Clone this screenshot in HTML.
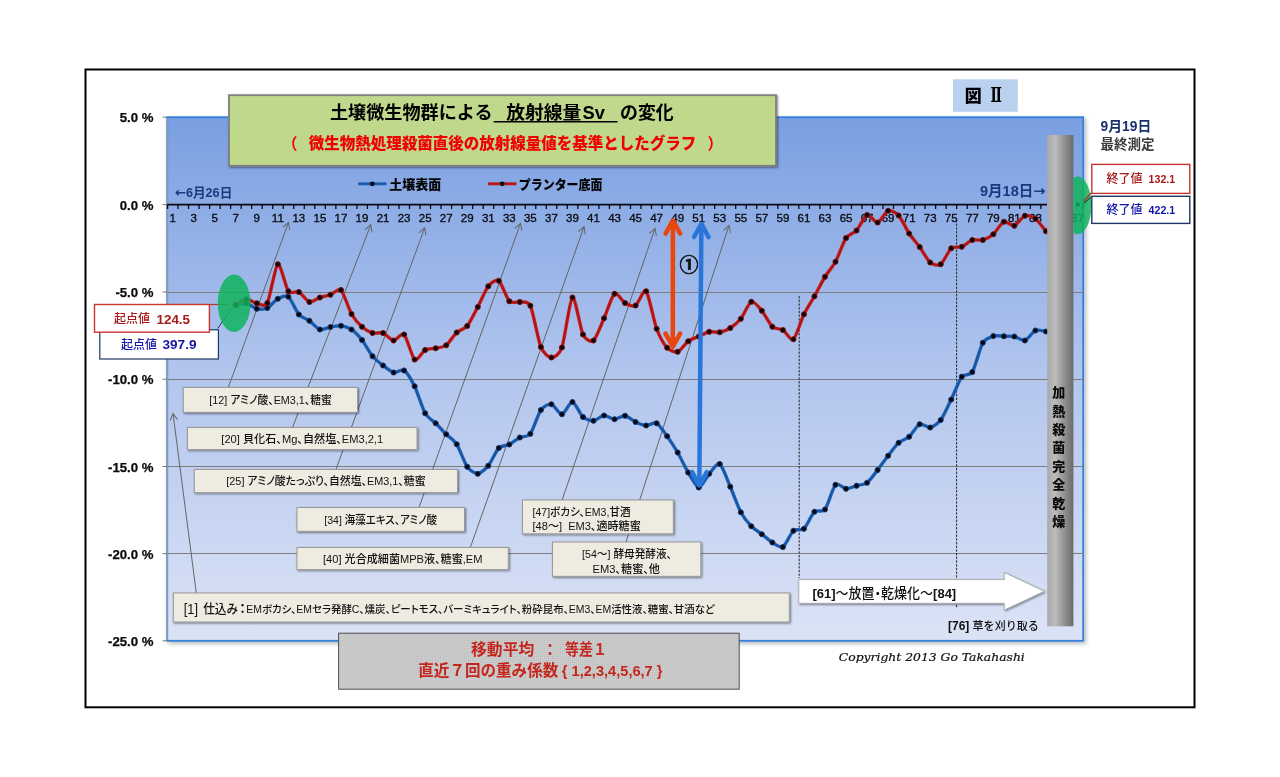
<!DOCTYPE html>
<html lang="ja"><head><meta charset="utf-8"><title>土壌微生物群による放射線量Svの変化</title>
<style>
html,body{margin:0;padding:0;background:#fff;}
body{width:1280px;height:777px;overflow:hidden;font-family:"Liberation Sans","Noto Sans CJK JP",sans-serif;}
svg{display:block;}
text{font-family:"Liberation Sans","Noto Sans CJK JP",sans-serif;}
.b{font-weight:700;}
.ax{font-size:11.5px;fill:#0c0c14;stroke:#0c0c14;stroke-width:0.35px;}
.yl{font-size:13.2px;font-weight:700;fill:#0a0a0a;stroke:#0a0a0a;stroke-width:0.25px;}
.note{font-size:11.1px;fill:#111;font-weight:500;font-feature-settings:"palt";}
</style></head><body>
<svg width="1280" height="777" viewBox="0 0 1280 777">
<defs>
<linearGradient id="gplot" x1="0" y1="0" x2="0" y2="1">
<stop offset="0" stop-color="#799fe1"/><stop offset="0.5" stop-color="#b3c6ee"/><stop offset="1" stop-color="#dbe3f6"/>
</linearGradient>
<linearGradient id="gbar" x1="0" y1="0" x2="1" y2="0">
<stop offset="0" stop-color="#a9a9a9"/><stop offset="0.3" stop-color="#bcbcbc"/><stop offset="0.7" stop-color="#8c8c8c"/><stop offset="1" stop-color="#6a6a6a"/>
</linearGradient>
<filter id="sh" x="-5%" y="-5%" width="115%" height="115%"><feGaussianBlur in="SourceAlpha" stdDeviation="2.2"/><feOffset dx="2" dy="2"/><feComponentTransfer><feFuncA type="linear" slope="0.28"/></feComponentTransfer><feMerge><feMergeNode/><feMergeNode in="SourceGraphic"/></feMerge></filter>
<filter id="sh2" x="-5%" y="-20%" width="110%" height="150%"><feGaussianBlur in="SourceAlpha" stdDeviation="1"/><feOffset dx="1" dy="1.2"/><feComponentTransfer><feFuncA type="linear" slope="0.5"/></feComponentTransfer><feMerge><feMergeNode/><feMergeNode in="SourceGraphic"/></feMerge></filter>
<marker id="ah" viewBox="0 0 12 12" refX="10" refY="6" markerWidth="10" markerHeight="10" orient="auto" markerUnits="userSpaceOnUse"><path d="M2,1.5 L10,6 L2,10.5" fill="none" stroke="#666" stroke-width="1.2"/></marker>
<pattern id="dots" width="2" height="2" patternUnits="userSpaceOnUse"><rect width="2" height="2" fill="#cbcbcb"/><rect width="1" height="1" fill="#bdbdbd"/></pattern>
</defs>

<rect x="85.5" y="69.5" width="1109" height="637.8" fill="#fff" stroke="#000" stroke-width="2"/>
<rect x="167.2" y="117.2" width="916.0" height="523.6" fill="url(#gplot)" stroke="#3580da" stroke-width="1.8" filter="url(#sh)"/>
<line x1="167.2" x2="1083.2" y1="292.5" y2="292.5" stroke="#7d7d7d" stroke-width="1"/>
<line x1="167.2" x2="1083.2" y1="379.5" y2="379.5" stroke="#7d7d7d" stroke-width="1"/>
<line x1="167.2" x2="1083.2" y1="466.5" y2="466.5" stroke="#7d7d7d" stroke-width="1"/>
<line x1="167.2" x2="1083.2" y1="553.5" y2="553.5" stroke="#7d7d7d" stroke-width="1"/>
<line x1="167.2" x2="167.2" y1="118.2" y2="639.8" stroke="#8a9cc0" stroke-width="1.8"/>
<line x1="162.5" x2="167.2" y1="117.2" y2="117.2" stroke="#777" stroke-width="1"/>
<text class="yl" x="153.5" y="122.3" text-anchor="end">5.0 %</text>
<line x1="162.5" x2="167.2" y1="204.6" y2="204.6" stroke="#777" stroke-width="1"/>
<text class="yl" x="153.5" y="209.7" text-anchor="end">0.0 %</text>
<line x1="162.5" x2="167.2" y1="292.0" y2="292.0" stroke="#777" stroke-width="1"/>
<text class="yl" x="153.5" y="297.1" text-anchor="end">-5.0 %</text>
<line x1="162.5" x2="167.2" y1="379.2" y2="379.2" stroke="#777" stroke-width="1"/>
<text class="yl" x="153.5" y="384.3" text-anchor="end">-10.0 %</text>
<line x1="162.5" x2="167.2" y1="466.5" y2="466.5" stroke="#777" stroke-width="1"/>
<text class="yl" x="153.5" y="471.6" text-anchor="end">-15.0 %</text>
<line x1="162.5" x2="167.2" y1="553.6" y2="553.6" stroke="#777" stroke-width="1"/>
<text class="yl" x="153.5" y="558.7" text-anchor="end">-20.0 %</text>
<line x1="162.5" x2="167.2" y1="640.8" y2="640.8" stroke="#777" stroke-width="1"/>
<text class="yl" x="153.5" y="645.9" text-anchor="end">-25.0 %</text>
<line x1="228.3" y1="387.5" x2="288.5" y2="222.5" stroke="#646464" stroke-width="1" marker-end="url(#ah)"/>
<line x1="292.5" y1="427.5" x2="370.8" y2="224.8" stroke="#646464" stroke-width="1" marker-end="url(#ah)"/>
<line x1="335.9" y1="469.5" x2="424.7" y2="227.8" stroke="#646464" stroke-width="1" marker-end="url(#ah)"/>
<line x1="419.0" y1="507.5" x2="520.5" y2="223.4" stroke="#646464" stroke-width="1" marker-end="url(#ah)"/>
<line x1="470.3" y1="547.5" x2="584.0" y2="226.8" stroke="#646464" stroke-width="1" marker-end="url(#ah)"/>
<line x1="562.1" y1="500.0" x2="655.0" y2="228.4" stroke="#646464" stroke-width="1" marker-end="url(#ah)"/>
<line x1="626.0" y1="542.0" x2="729.0" y2="225.4" stroke="#646464" stroke-width="1" marker-end="url(#ah)"/>
<line x1="196.3" y1="593.0" x2="173.0" y2="413.5" stroke="#646464" stroke-width="1" marker-end="url(#ah)"/>
<line x1="799.2" x2="799.2" y1="296" y2="578" stroke="#262626" stroke-width="1" stroke-dasharray="2.4,1.3"/>
<line x1="956.6" x2="956.6" y1="220" y2="608" stroke="#262626" stroke-width="1" stroke-dasharray="2.4,1.3"/>
<line x1="167.2" x2="1047.0" y1="204.7" y2="204.7" stroke="#0b0b14" stroke-width="1.8"/>
<path d="M167.50,204.7v4.2M178.02,204.7v4.2M188.54,204.7v4.2M199.07,204.7v4.2M209.59,204.7v4.2M220.11,204.7v4.2M230.63,204.7v4.2M241.15,204.7v4.2M251.68,204.7v4.2M262.20,204.7v4.2M272.72,204.7v4.2M283.24,204.7v4.2M293.76,204.7v4.2M304.29,204.7v4.2M314.81,204.7v4.2M325.33,204.7v4.2M335.85,204.7v4.2M346.37,204.7v4.2M356.90,204.7v4.2M367.42,204.7v4.2M377.94,204.7v4.2M388.46,204.7v4.2M398.98,204.7v4.2M409.51,204.7v4.2M420.03,204.7v4.2M430.55,204.7v4.2M441.07,204.7v4.2M451.59,204.7v4.2M462.12,204.7v4.2M472.64,204.7v4.2M483.16,204.7v4.2M493.68,204.7v4.2M504.20,204.7v4.2M514.73,204.7v4.2M525.25,204.7v4.2M535.77,204.7v4.2M546.29,204.7v4.2M556.81,204.7v4.2M567.34,204.7v4.2M577.86,204.7v4.2M588.38,204.7v4.2M598.90,204.7v4.2M609.42,204.7v4.2M619.95,204.7v4.2M630.47,204.7v4.2M640.99,204.7v4.2M651.51,204.7v4.2M662.03,204.7v4.2M672.56,204.7v4.2M683.08,204.7v4.2M693.60,204.7v4.2M704.12,204.7v4.2M714.64,204.7v4.2M725.17,204.7v4.2M735.69,204.7v4.2M746.21,204.7v4.2M756.73,204.7v4.2M767.25,204.7v4.2M777.78,204.7v4.2M788.30,204.7v4.2M798.82,204.7v4.2M809.34,204.7v4.2M819.86,204.7v4.2M830.39,204.7v4.2M840.91,204.7v4.2M851.43,204.7v4.2M861.95,204.7v4.2M872.47,204.7v4.2M883.00,204.7v4.2M893.52,204.7v4.2M904.04,204.7v4.2M914.56,204.7v4.2M925.08,204.7v4.2M935.61,204.7v4.2M946.13,204.7v4.2M956.65,204.7v4.2M967.17,204.7v4.2M977.69,204.7v4.2M988.22,204.7v4.2M998.74,204.7v4.2M1009.26,204.7v4.2M1019.78,204.7v4.2M1030.30,204.7v4.2M1040.83,204.7v4.2M1051.35,204.7v4.2M1061.87,204.7v4.2M1072.39,204.7v4.2M1082.91,204.7v4.2" stroke="#0b0b14" stroke-width="1.3" fill="none"/>
<g class="ax" text-anchor="middle"><text x="172.62" y="222.3">1</text><text x="193.66" y="222.3">3</text><text x="214.71" y="222.3">5</text><text x="235.75" y="222.3">7</text><text x="256.79" y="222.3">9</text><text x="277.84" y="222.3">11</text><text x="298.88" y="222.3">13</text><text x="319.93" y="222.3">15</text><text x="340.97" y="222.3">17</text><text x="362.01" y="222.3">19</text><text x="383.06" y="222.3">21</text><text x="404.10" y="222.3">23</text><text x="425.15" y="222.3">25</text><text x="446.19" y="222.3">27</text><text x="467.23" y="222.3">29</text><text x="488.28" y="222.3">31</text><text x="509.32" y="222.3">33</text><text x="530.37" y="222.3">35</text><text x="551.41" y="222.3">37</text><text x="572.45" y="222.3">39</text><text x="593.50" y="222.3">41</text><text x="614.54" y="222.3">43</text><text x="635.59" y="222.3">45</text><text x="656.63" y="222.3">47</text><text x="677.67" y="222.3">49</text><text x="698.72" y="222.3">51</text><text x="719.76" y="222.3">53</text><text x="740.81" y="222.3">55</text><text x="761.85" y="222.3">57</text><text x="782.89" y="222.3">59</text><text x="803.94" y="222.3">61</text><text x="824.98" y="222.3">63</text><text x="846.03" y="222.3">65</text><text x="867.07" y="222.3">67</text><text x="888.11" y="222.3">69</text><text x="909.16" y="222.3">71</text><text x="930.20" y="222.3">73</text><text x="951.25" y="222.3">75</text><text x="972.29" y="222.3">77</text><text x="993.33" y="222.3">79</text><text x="1014.38" y="222.3">81</text><text x="1035.42" y="222.3">83</text><text x="1056.47" y="222.3">85</text><text x="1077.51" y="222.3">87</text></g>
<g stroke="#e8460c" stroke-width="4.5" fill="none" stroke-linecap="round" stroke-linejoin="round"><line x1="672.90" y1="221.85" x2="672.80" y2="345.25"/><path d="M665.59,233.54 L672.90,220.35 L680.19,233.56"/><path d="M665.51,333.54 L672.80,346.75 L680.11,333.56"/></g>
<path d="M235.75,305.00 C237.07,304.78 243.64,302.78 246.27,303.25 C248.90,303.72 254.16,308.16 256.79,308.75 C259.42,309.34 264.69,309.25 267.32,308.00 C269.95,306.75 275.21,300.16 277.84,298.75 C280.47,297.34 285.73,294.78 288.36,296.75 C290.99,298.72 296.25,311.50 298.88,314.50 C301.51,317.50 306.77,318.88 309.40,320.75 C312.03,322.62 317.30,328.72 319.93,329.50 C322.56,330.28 327.82,327.47 330.45,327.00 C333.08,326.53 338.34,325.44 340.97,325.75 C343.60,326.06 348.86,327.72 351.49,329.50 C354.12,331.28 359.38,336.66 362.01,340.00 C364.64,343.34 369.91,353.06 372.54,356.25 C375.17,359.44 380.43,363.47 383.06,365.50 C385.69,367.53 390.95,371.88 393.58,372.50 C396.21,373.12 401.47,368.78 404.10,370.50 C406.73,372.22 411.99,380.91 414.62,386.25 C417.25,391.59 422.52,408.62 425.15,413.25 C427.78,417.88 433.04,420.62 435.67,423.25 C438.30,425.88 443.56,431.62 446.19,434.25 C448.82,436.88 454.08,440.19 456.71,444.25 C459.34,448.31 464.60,463.06 467.23,466.75 C469.86,470.44 475.13,473.88 477.76,473.75 C480.39,473.62 485.65,468.97 488.28,465.75 C490.91,462.53 496.17,450.66 498.80,448.00 C501.43,445.34 506.69,445.81 509.32,444.50 C511.95,443.19 517.21,438.84 519.84,437.50 C522.47,436.16 527.74,437.19 530.37,433.75 C533.00,430.31 538.26,413.69 540.89,410.00 C543.52,406.31 548.78,403.72 551.41,404.25 C554.04,404.78 559.30,414.53 561.93,414.25 C564.56,413.97 569.82,401.66 572.45,402.00 C575.08,402.34 580.35,414.66 582.98,417.00 C585.61,419.34 590.87,420.94 593.50,420.75 C596.13,420.56 601.39,415.69 604.02,415.50 C606.65,415.31 611.91,419.22 614.54,419.25 C617.17,419.28 622.43,415.41 625.06,415.75 C627.69,416.09 632.96,420.78 635.59,422.00 C638.22,423.22 643.48,425.34 646.11,425.50 C648.74,425.66 654.00,421.91 656.63,423.25 C659.26,424.59 664.52,432.59 667.15,436.25 C669.78,439.91 675.04,447.97 677.67,452.50 C680.30,457.03 685.57,468.12 688.20,472.50 C690.83,476.88 696.09,487.34 698.72,487.50 C701.35,487.66 706.61,476.69 709.24,473.75 C711.87,470.81 717.13,462.38 719.76,464.00 C722.39,465.62 727.65,480.72 730.28,486.75 C732.91,492.78 738.18,507.31 740.81,512.25 C743.44,517.19 748.70,523.50 751.33,526.25 C753.96,529.00 759.22,532.22 761.85,534.25 C764.48,536.28 769.74,540.91 772.37,542.50 C775.00,544.09 780.26,548.47 782.89,547.00 C785.52,545.53 790.79,533.03 793.42,530.75 C796.05,528.47 801.31,531.12 803.94,528.75 C806.57,526.38 811.83,514.16 814.46,511.75 C817.09,509.34 822.35,512.88 824.98,509.50 C827.61,506.12 832.87,487.34 835.50,484.75 C838.13,482.16 843.40,488.62 846.03,488.75 C848.66,488.88 853.92,486.50 856.55,485.75 C859.18,485.00 864.44,484.72 867.07,482.75 C869.70,480.78 874.96,473.38 877.59,470.00 C880.22,466.62 885.48,459.16 888.11,455.75 C890.74,452.34 896.01,445.12 898.64,442.75 C901.27,440.38 906.53,439.06 909.16,436.75 C911.79,434.44 917.05,425.41 919.68,424.25 C922.31,423.09 927.57,428.03 930.20,427.50 C932.83,426.97 938.09,423.50 940.72,420.00 C943.35,416.50 948.62,404.91 951.25,399.50 C953.88,394.09 959.14,380.19 961.77,376.75 C964.40,373.31 969.66,376.25 972.29,372.00 C974.92,367.75 980.18,347.24 982.81,342.75 C985.44,338.26 990.70,336.91 993.33,336.10 C995.96,335.29 1001.23,336.20 1003.86,336.25 C1006.49,336.30 1011.75,335.97 1014.38,336.50 C1017.01,337.03 1022.27,341.25 1024.90,340.50 C1027.53,339.75 1032.79,331.62 1035.42,330.50 C1038.05,329.38 1044.63,331.38 1045.94,331.50" fill="none" stroke="#1f64b8" stroke-width="3.4" stroke-linejoin="round" stroke-linecap="round"/>
<path d="M235.75,305.00 C237.07,304.78 243.64,302.78 246.27,303.25 C248.90,303.72 254.16,308.16 256.79,308.75 C259.42,309.34 264.69,309.25 267.32,308.00 C269.95,306.75 275.21,300.16 277.84,298.75 C280.47,297.34 285.73,294.78 288.36,296.75 C290.99,298.72 296.25,311.50 298.88,314.50 C301.51,317.50 306.77,318.88 309.40,320.75 C312.03,322.62 317.30,328.72 319.93,329.50 C322.56,330.28 327.82,327.47 330.45,327.00 C333.08,326.53 338.34,325.44 340.97,325.75 C343.60,326.06 348.86,327.72 351.49,329.50 C354.12,331.28 359.38,336.66 362.01,340.00 C364.64,343.34 369.91,353.06 372.54,356.25 C375.17,359.44 380.43,363.47 383.06,365.50 C385.69,367.53 390.95,371.88 393.58,372.50 C396.21,373.12 401.47,368.78 404.10,370.50 C406.73,372.22 411.99,380.91 414.62,386.25 C417.25,391.59 422.52,408.62 425.15,413.25 C427.78,417.88 433.04,420.62 435.67,423.25 C438.30,425.88 443.56,431.62 446.19,434.25 C448.82,436.88 454.08,440.19 456.71,444.25 C459.34,448.31 464.60,463.06 467.23,466.75 C469.86,470.44 475.13,473.88 477.76,473.75 C480.39,473.62 485.65,468.97 488.28,465.75 C490.91,462.53 496.17,450.66 498.80,448.00 C501.43,445.34 506.69,445.81 509.32,444.50 C511.95,443.19 517.21,438.84 519.84,437.50 C522.47,436.16 527.74,437.19 530.37,433.75 C533.00,430.31 538.26,413.69 540.89,410.00 C543.52,406.31 548.78,403.72 551.41,404.25 C554.04,404.78 559.30,414.53 561.93,414.25 C564.56,413.97 569.82,401.66 572.45,402.00 C575.08,402.34 580.35,414.66 582.98,417.00 C585.61,419.34 590.87,420.94 593.50,420.75 C596.13,420.56 601.39,415.69 604.02,415.50 C606.65,415.31 611.91,419.22 614.54,419.25 C617.17,419.28 622.43,415.41 625.06,415.75 C627.69,416.09 632.96,420.78 635.59,422.00 C638.22,423.22 643.48,425.34 646.11,425.50 C648.74,425.66 654.00,421.91 656.63,423.25 C659.26,424.59 664.52,432.59 667.15,436.25 C669.78,439.91 675.04,447.97 677.67,452.50 C680.30,457.03 685.57,468.12 688.20,472.50 C690.83,476.88 696.09,487.34 698.72,487.50 C701.35,487.66 706.61,476.69 709.24,473.75 C711.87,470.81 717.13,462.38 719.76,464.00 C722.39,465.62 727.65,480.72 730.28,486.75 C732.91,492.78 738.18,507.31 740.81,512.25 C743.44,517.19 748.70,523.50 751.33,526.25 C753.96,529.00 759.22,532.22 761.85,534.25 C764.48,536.28 769.74,540.91 772.37,542.50 C775.00,544.09 780.26,548.47 782.89,547.00 C785.52,545.53 790.79,533.03 793.42,530.75 C796.05,528.47 801.31,531.12 803.94,528.75 C806.57,526.38 811.83,514.16 814.46,511.75 C817.09,509.34 822.35,512.88 824.98,509.50 C827.61,506.12 832.87,487.34 835.50,484.75 C838.13,482.16 843.40,488.62 846.03,488.75 C848.66,488.88 853.92,486.50 856.55,485.75 C859.18,485.00 864.44,484.72 867.07,482.75 C869.70,480.78 874.96,473.38 877.59,470.00 C880.22,466.62 885.48,459.16 888.11,455.75 C890.74,452.34 896.01,445.12 898.64,442.75 C901.27,440.38 906.53,439.06 909.16,436.75 C911.79,434.44 917.05,425.41 919.68,424.25 C922.31,423.09 927.57,428.03 930.20,427.50 C932.83,426.97 938.09,423.50 940.72,420.00 C943.35,416.50 948.62,404.91 951.25,399.50 C953.88,394.09 959.14,380.19 961.77,376.75 C964.40,373.31 969.66,376.25 972.29,372.00 C974.92,367.75 980.18,347.24 982.81,342.75 C985.44,338.26 990.70,336.91 993.33,336.10 C995.96,335.29 1001.23,336.20 1003.86,336.25 C1006.49,336.30 1011.75,335.97 1014.38,336.50 C1017.01,337.03 1022.27,341.25 1024.90,340.50 C1027.53,339.75 1032.79,331.62 1035.42,330.50 C1038.05,329.38 1044.63,331.38 1045.94,331.50" fill="none" stroke="#19549e" stroke-width="1.5" stroke-linejoin="round" stroke-linecap="round"/>
<g fill="#0c0608" stroke="#123a78" stroke-width="1"><circle cx="235.75" cy="305.00" r="2.55"/><circle cx="246.27" cy="303.25" r="2.55"/><circle cx="256.79" cy="308.75" r="2.55"/><circle cx="267.32" cy="308.00" r="2.55"/><circle cx="277.84" cy="298.75" r="2.55"/><circle cx="288.36" cy="296.75" r="2.55"/><circle cx="298.88" cy="314.50" r="2.55"/><circle cx="309.40" cy="320.75" r="2.55"/><circle cx="319.93" cy="329.50" r="2.55"/><circle cx="330.45" cy="327.00" r="2.55"/><circle cx="340.97" cy="325.75" r="2.55"/><circle cx="351.49" cy="329.50" r="2.55"/><circle cx="362.01" cy="340.00" r="2.55"/><circle cx="372.54" cy="356.25" r="2.55"/><circle cx="383.06" cy="365.50" r="2.55"/><circle cx="393.58" cy="372.50" r="2.55"/><circle cx="404.10" cy="370.50" r="2.55"/><circle cx="414.62" cy="386.25" r="2.55"/><circle cx="425.15" cy="413.25" r="2.55"/><circle cx="435.67" cy="423.25" r="2.55"/><circle cx="446.19" cy="434.25" r="2.55"/><circle cx="456.71" cy="444.25" r="2.55"/><circle cx="467.23" cy="466.75" r="2.55"/><circle cx="477.76" cy="473.75" r="2.55"/><circle cx="488.28" cy="465.75" r="2.55"/><circle cx="498.80" cy="448.00" r="2.55"/><circle cx="509.32" cy="444.50" r="2.55"/><circle cx="519.84" cy="437.50" r="2.55"/><circle cx="530.37" cy="433.75" r="2.55"/><circle cx="540.89" cy="410.00" r="2.55"/><circle cx="551.41" cy="404.25" r="2.55"/><circle cx="561.93" cy="414.25" r="2.55"/><circle cx="572.45" cy="402.00" r="2.55"/><circle cx="582.98" cy="417.00" r="2.55"/><circle cx="593.50" cy="420.75" r="2.55"/><circle cx="604.02" cy="415.50" r="2.55"/><circle cx="614.54" cy="419.25" r="2.55"/><circle cx="625.06" cy="415.75" r="2.55"/><circle cx="635.59" cy="422.00" r="2.55"/><circle cx="646.11" cy="425.50" r="2.55"/><circle cx="656.63" cy="423.25" r="2.55"/><circle cx="667.15" cy="436.25" r="2.55"/><circle cx="677.67" cy="452.50" r="2.55"/><circle cx="688.20" cy="472.50" r="2.55"/><circle cx="698.72" cy="487.50" r="2.55"/><circle cx="709.24" cy="473.75" r="2.55"/><circle cx="719.76" cy="464.00" r="2.55"/><circle cx="730.28" cy="486.75" r="2.55"/><circle cx="740.81" cy="512.25" r="2.55"/><circle cx="751.33" cy="526.25" r="2.55"/><circle cx="761.85" cy="534.25" r="2.55"/><circle cx="772.37" cy="542.50" r="2.55"/><circle cx="782.89" cy="547.00" r="2.55"/><circle cx="793.42" cy="530.75" r="2.55"/><circle cx="803.94" cy="528.75" r="2.55"/><circle cx="814.46" cy="511.75" r="2.55"/><circle cx="824.98" cy="509.50" r="2.55"/><circle cx="835.50" cy="484.75" r="2.55"/><circle cx="846.03" cy="488.75" r="2.55"/><circle cx="856.55" cy="485.75" r="2.55"/><circle cx="867.07" cy="482.75" r="2.55"/><circle cx="877.59" cy="470.00" r="2.55"/><circle cx="888.11" cy="455.75" r="2.55"/><circle cx="898.64" cy="442.75" r="2.55"/><circle cx="909.16" cy="436.75" r="2.55"/><circle cx="919.68" cy="424.25" r="2.55"/><circle cx="930.20" cy="427.50" r="2.55"/><circle cx="940.72" cy="420.00" r="2.55"/><circle cx="951.25" cy="399.50" r="2.55"/><circle cx="961.77" cy="376.75" r="2.55"/><circle cx="972.29" cy="372.00" r="2.55"/><circle cx="982.81" cy="342.75" r="2.55"/><circle cx="993.33" cy="336.10" r="2.55"/><circle cx="1003.86" cy="336.25" r="2.55"/><circle cx="1014.38" cy="336.50" r="2.55"/><circle cx="1024.90" cy="340.50" r="2.55"/><circle cx="1035.42" cy="330.50" r="2.55"/><circle cx="1045.94" cy="331.50" r="2.55"/></g>

<path d="M235.75,305.00 C237.07,304.28 243.64,299.47 246.27,299.25 C248.90,299.03 254.16,302.78 256.79,303.25 C259.42,303.72 264.69,307.88 267.32,303.00 C269.95,298.12 275.21,265.72 277.84,264.25 C280.47,262.78 285.73,287.78 288.36,291.25 C290.99,294.72 296.25,290.66 298.88,292.00 C301.51,293.34 306.77,301.31 309.40,302.00 C312.03,302.69 317.30,298.41 319.93,297.50 C322.56,296.59 327.82,295.69 330.45,294.75 C333.08,293.81 338.34,287.59 340.97,290.00 C343.60,292.41 348.86,309.41 351.49,314.00 C354.12,318.59 359.38,324.38 362.01,326.75 C364.64,329.12 369.91,332.22 372.54,333.00 C375.17,333.78 380.43,332.06 383.06,333.00 C385.69,333.94 390.95,340.31 393.58,340.50 C396.21,340.69 401.47,332.12 404.10,334.50 C406.73,336.88 411.99,357.56 414.62,359.50 C417.25,361.44 422.52,351.41 425.15,350.00 C427.78,348.59 433.04,348.84 435.67,348.25 C438.30,347.66 443.56,347.22 446.19,345.25 C448.82,343.28 454.08,334.91 456.71,332.50 C459.34,330.09 464.60,329.19 467.23,326.00 C469.86,322.81 475.13,311.97 477.76,307.00 C480.39,302.03 485.65,289.53 488.28,286.25 C490.91,282.97 496.17,278.88 498.80,280.75 C501.43,282.62 506.69,298.59 509.32,301.25 C511.95,303.91 517.21,301.44 519.84,302.00 C522.47,302.56 527.74,300.12 530.37,305.75 C533.00,311.38 538.26,340.53 540.89,347.00 C543.52,353.47 548.78,357.44 551.41,357.50 C554.04,357.56 559.30,355.00 561.93,347.50 C564.56,340.00 569.82,299.12 572.45,297.50 C575.08,295.88 580.35,329.12 582.98,334.50 C585.61,339.88 590.87,342.53 593.50,340.50 C596.13,338.47 601.39,324.09 604.02,318.25 C606.65,312.41 611.91,295.66 614.54,293.75 C617.17,291.84 622.43,301.53 625.06,303.00 C627.69,304.47 632.96,306.97 635.59,305.50 C638.22,304.03 643.48,288.34 646.11,291.25 C648.74,294.16 654.00,321.69 656.63,328.75 C659.26,335.81 664.52,344.88 667.15,347.75 C669.78,350.62 675.04,352.56 677.67,351.75 C680.30,350.94 685.57,343.16 688.20,341.25 C690.83,339.34 696.09,337.69 698.72,336.50 C701.35,335.31 706.61,332.28 709.24,331.75 C711.87,331.22 717.13,332.72 719.76,332.25 C722.39,331.78 727.65,329.69 730.28,328.00 C732.91,326.31 738.18,322.03 740.81,318.75 C743.44,315.47 748.70,302.75 751.33,301.75 C753.96,300.75 759.22,307.62 761.85,310.75 C764.48,313.88 769.74,324.34 772.37,326.75 C775.00,329.16 780.26,328.44 782.89,330.00 C785.52,331.56 790.79,341.22 793.42,339.25 C796.05,337.28 801.31,319.62 803.94,314.25 C806.57,308.88 811.83,300.94 814.46,296.25 C817.09,291.56 822.35,281.06 824.98,276.75 C827.61,272.44 832.87,266.59 835.50,261.75 C838.13,256.91 843.40,241.91 846.03,238.00 C848.66,234.09 853.92,233.38 856.55,230.50 C859.18,227.62 864.44,216.00 867.07,215.00 C869.70,214.00 874.96,223.03 877.59,222.50 C880.22,221.97 885.48,211.62 888.11,210.75 C890.74,209.88 896.01,212.66 898.64,215.50 C901.27,218.34 906.53,229.56 909.16,233.50 C911.79,237.44 917.05,243.38 919.68,247.00 C922.31,250.62 927.57,260.34 930.20,262.50 C932.83,264.66 938.09,266.03 940.72,264.25 C943.35,262.47 948.62,250.44 951.25,248.25 C953.88,246.06 959.14,247.78 961.77,246.75 C964.40,245.72 969.66,240.84 972.29,240.00 C974.92,239.16 980.18,240.72 982.81,240.00 C985.44,239.28 990.70,236.53 993.33,234.25 C995.96,231.97 1001.23,222.81 1003.86,221.75 C1006.49,220.69 1011.75,226.50 1014.38,225.75 C1017.01,225.00 1022.27,216.62 1024.90,215.75 C1027.53,214.88 1032.79,216.81 1035.42,218.75 C1038.05,220.69 1044.63,229.69 1045.94,231.25" fill="none" stroke="#c81e1e" stroke-width="3.4" stroke-linejoin="round" stroke-linecap="round"/>
<path d="M235.75,305.00 C237.07,304.28 243.64,299.47 246.27,299.25 C248.90,299.03 254.16,302.78 256.79,303.25 C259.42,303.72 264.69,307.88 267.32,303.00 C269.95,298.12 275.21,265.72 277.84,264.25 C280.47,262.78 285.73,287.78 288.36,291.25 C290.99,294.72 296.25,290.66 298.88,292.00 C301.51,293.34 306.77,301.31 309.40,302.00 C312.03,302.69 317.30,298.41 319.93,297.50 C322.56,296.59 327.82,295.69 330.45,294.75 C333.08,293.81 338.34,287.59 340.97,290.00 C343.60,292.41 348.86,309.41 351.49,314.00 C354.12,318.59 359.38,324.38 362.01,326.75 C364.64,329.12 369.91,332.22 372.54,333.00 C375.17,333.78 380.43,332.06 383.06,333.00 C385.69,333.94 390.95,340.31 393.58,340.50 C396.21,340.69 401.47,332.12 404.10,334.50 C406.73,336.88 411.99,357.56 414.62,359.50 C417.25,361.44 422.52,351.41 425.15,350.00 C427.78,348.59 433.04,348.84 435.67,348.25 C438.30,347.66 443.56,347.22 446.19,345.25 C448.82,343.28 454.08,334.91 456.71,332.50 C459.34,330.09 464.60,329.19 467.23,326.00 C469.86,322.81 475.13,311.97 477.76,307.00 C480.39,302.03 485.65,289.53 488.28,286.25 C490.91,282.97 496.17,278.88 498.80,280.75 C501.43,282.62 506.69,298.59 509.32,301.25 C511.95,303.91 517.21,301.44 519.84,302.00 C522.47,302.56 527.74,300.12 530.37,305.75 C533.00,311.38 538.26,340.53 540.89,347.00 C543.52,353.47 548.78,357.44 551.41,357.50 C554.04,357.56 559.30,355.00 561.93,347.50 C564.56,340.00 569.82,299.12 572.45,297.50 C575.08,295.88 580.35,329.12 582.98,334.50 C585.61,339.88 590.87,342.53 593.50,340.50 C596.13,338.47 601.39,324.09 604.02,318.25 C606.65,312.41 611.91,295.66 614.54,293.75 C617.17,291.84 622.43,301.53 625.06,303.00 C627.69,304.47 632.96,306.97 635.59,305.50 C638.22,304.03 643.48,288.34 646.11,291.25 C648.74,294.16 654.00,321.69 656.63,328.75 C659.26,335.81 664.52,344.88 667.15,347.75 C669.78,350.62 675.04,352.56 677.67,351.75 C680.30,350.94 685.57,343.16 688.20,341.25 C690.83,339.34 696.09,337.69 698.72,336.50 C701.35,335.31 706.61,332.28 709.24,331.75 C711.87,331.22 717.13,332.72 719.76,332.25 C722.39,331.78 727.65,329.69 730.28,328.00 C732.91,326.31 738.18,322.03 740.81,318.75 C743.44,315.47 748.70,302.75 751.33,301.75 C753.96,300.75 759.22,307.62 761.85,310.75 C764.48,313.88 769.74,324.34 772.37,326.75 C775.00,329.16 780.26,328.44 782.89,330.00 C785.52,331.56 790.79,341.22 793.42,339.25 C796.05,337.28 801.31,319.62 803.94,314.25 C806.57,308.88 811.83,300.94 814.46,296.25 C817.09,291.56 822.35,281.06 824.98,276.75 C827.61,272.44 832.87,266.59 835.50,261.75 C838.13,256.91 843.40,241.91 846.03,238.00 C848.66,234.09 853.92,233.38 856.55,230.50 C859.18,227.62 864.44,216.00 867.07,215.00 C869.70,214.00 874.96,223.03 877.59,222.50 C880.22,221.97 885.48,211.62 888.11,210.75 C890.74,209.88 896.01,212.66 898.64,215.50 C901.27,218.34 906.53,229.56 909.16,233.50 C911.79,237.44 917.05,243.38 919.68,247.00 C922.31,250.62 927.57,260.34 930.20,262.50 C932.83,264.66 938.09,266.03 940.72,264.25 C943.35,262.47 948.62,250.44 951.25,248.25 C953.88,246.06 959.14,247.78 961.77,246.75 C964.40,245.72 969.66,240.84 972.29,240.00 C974.92,239.16 980.18,240.72 982.81,240.00 C985.44,239.28 990.70,236.53 993.33,234.25 C995.96,231.97 1001.23,222.81 1003.86,221.75 C1006.49,220.69 1011.75,226.50 1014.38,225.75 C1017.01,225.00 1022.27,216.62 1024.90,215.75 C1027.53,214.88 1032.79,216.81 1035.42,218.75 C1038.05,220.69 1044.63,229.69 1045.94,231.25" fill="none" stroke="#ac1414" stroke-width="1.5" stroke-linejoin="round" stroke-linecap="round"/>
<g fill="#0c0608" stroke="#7a1010" stroke-width="1"><circle cx="235.75" cy="305.00" r="2.55"/><circle cx="246.27" cy="299.25" r="2.55"/><circle cx="256.79" cy="303.25" r="2.55"/><circle cx="267.32" cy="303.00" r="2.55"/><circle cx="277.84" cy="264.25" r="2.55"/><circle cx="288.36" cy="291.25" r="2.55"/><circle cx="298.88" cy="292.00" r="2.55"/><circle cx="309.40" cy="302.00" r="2.55"/><circle cx="319.93" cy="297.50" r="2.55"/><circle cx="330.45" cy="294.75" r="2.55"/><circle cx="340.97" cy="290.00" r="2.55"/><circle cx="351.49" cy="314.00" r="2.55"/><circle cx="362.01" cy="326.75" r="2.55"/><circle cx="372.54" cy="333.00" r="2.55"/><circle cx="383.06" cy="333.00" r="2.55"/><circle cx="393.58" cy="340.50" r="2.55"/><circle cx="404.10" cy="334.50" r="2.55"/><circle cx="414.62" cy="359.50" r="2.55"/><circle cx="425.15" cy="350.00" r="2.55"/><circle cx="435.67" cy="348.25" r="2.55"/><circle cx="446.19" cy="345.25" r="2.55"/><circle cx="456.71" cy="332.50" r="2.55"/><circle cx="467.23" cy="326.00" r="2.55"/><circle cx="477.76" cy="307.00" r="2.55"/><circle cx="488.28" cy="286.25" r="2.55"/><circle cx="498.80" cy="280.75" r="2.55"/><circle cx="509.32" cy="301.25" r="2.55"/><circle cx="519.84" cy="302.00" r="2.55"/><circle cx="530.37" cy="305.75" r="2.55"/><circle cx="540.89" cy="347.00" r="2.55"/><circle cx="551.41" cy="357.50" r="2.55"/><circle cx="561.93" cy="347.50" r="2.55"/><circle cx="572.45" cy="297.50" r="2.55"/><circle cx="582.98" cy="334.50" r="2.55"/><circle cx="593.50" cy="340.50" r="2.55"/><circle cx="604.02" cy="318.25" r="2.55"/><circle cx="614.54" cy="293.75" r="2.55"/><circle cx="625.06" cy="303.00" r="2.55"/><circle cx="635.59" cy="305.50" r="2.55"/><circle cx="646.11" cy="291.25" r="2.55"/><circle cx="656.63" cy="328.75" r="2.55"/><circle cx="667.15" cy="347.75" r="2.55"/><circle cx="677.67" cy="351.75" r="2.55"/><circle cx="688.20" cy="341.25" r="2.55"/><circle cx="698.72" cy="336.50" r="2.55"/><circle cx="709.24" cy="331.75" r="2.55"/><circle cx="719.76" cy="332.25" r="2.55"/><circle cx="730.28" cy="328.00" r="2.55"/><circle cx="740.81" cy="318.75" r="2.55"/><circle cx="751.33" cy="301.75" r="2.55"/><circle cx="761.85" cy="310.75" r="2.55"/><circle cx="772.37" cy="326.75" r="2.55"/><circle cx="782.89" cy="330.00" r="2.55"/><circle cx="793.42" cy="339.25" r="2.55"/><circle cx="803.94" cy="314.25" r="2.55"/><circle cx="814.46" cy="296.25" r="2.55"/><circle cx="824.98" cy="276.75" r="2.55"/><circle cx="835.50" cy="261.75" r="2.55"/><circle cx="846.03" cy="238.00" r="2.55"/><circle cx="856.55" cy="230.50" r="2.55"/><circle cx="867.07" cy="215.00" r="2.55"/><circle cx="877.59" cy="222.50" r="2.55"/><circle cx="888.11" cy="210.75" r="2.55"/><circle cx="898.64" cy="215.50" r="2.55"/><circle cx="909.16" cy="233.50" r="2.55"/><circle cx="919.68" cy="247.00" r="2.55"/><circle cx="930.20" cy="262.50" r="2.55"/><circle cx="940.72" cy="264.25" r="2.55"/><circle cx="951.25" cy="248.25" r="2.55"/><circle cx="961.77" cy="246.75" r="2.55"/><circle cx="972.29" cy="240.00" r="2.55"/><circle cx="982.81" cy="240.00" r="2.55"/><circle cx="993.33" cy="234.25" r="2.55"/><circle cx="1003.86" cy="221.75" r="2.55"/><circle cx="1014.38" cy="225.75" r="2.55"/><circle cx="1024.90" cy="215.75" r="2.55"/><circle cx="1035.42" cy="218.75" r="2.55"/><circle cx="1045.94" cy="231.25" r="2.55"/></g>

<circle cx="1077.8" cy="204.6" r="2.2" fill="#0a0a12"/>
<text x="688.9" y="271.6" text-anchor="middle" font-size="19" class="b" fill="#111" stroke="#111" stroke-width="0.6">①</text>
<g stroke="#2876d8" stroke-width="4.5" fill="none" stroke-linecap="round" stroke-linejoin="round"><line x1="701.37" y1="225.35" x2="699.33" y2="483.85"/><path d="M693.98,236.99 L701.38,223.85 L708.58,237.11"/><path d="M692.12,472.09 L699.32,485.35 L706.72,472.21"/></g>
<rect x="1047.2" y="135" width="26.2" height="491.3" fill="url(#gbar)"/>
<text font-weight="900" x="1058.8" y="397.2" text-anchor="middle" font-size="13" fill="#0a0a0a">加</text>
<text font-weight="900" x="1058.8" y="415.6" text-anchor="middle" font-size="13" fill="#0a0a0a">熱</text>
<text font-weight="900" x="1058.8" y="434.0" text-anchor="middle" font-size="13" fill="#0a0a0a">殺</text>
<text font-weight="900" x="1058.8" y="452.4" text-anchor="middle" font-size="13" fill="#0a0a0a">菌</text>
<text font-weight="900" x="1058.8" y="470.8" text-anchor="middle" font-size="13" fill="#0a0a0a">完</text>
<text font-weight="900" x="1058.8" y="489.2" text-anchor="middle" font-size="13" fill="#0a0a0a">全</text>
<text font-weight="900" x="1058.8" y="507.6" text-anchor="middle" font-size="13" fill="#0a0a0a">乾</text>
<text font-weight="900" x="1058.8" y="526.0" text-anchor="middle" font-size="13" fill="#0a0a0a">燥</text>
<line x1="217.8" y1="328.4" x2="231" y2="309" stroke="#1f3864" stroke-width="1"/>
<line x1="209.4" y1="304.5" x2="229" y2="304.5" stroke="#c0302a" stroke-width="1.2"/>
<ellipse cx="234.1" cy="303.2" rx="16.4" ry="28.7" fill="#0db35a" fill-opacity="0.84"/>
<path d="M1073.4,177.5 A13.9,28.8 0 0 1 1073.4,233 Z" fill="none"/>
<clipPath id="cl"><rect x="1073.4" y="150" width="40" height="120"/></clipPath>
<ellipse cx="1077.6" cy="205.3" rx="13.9" ry="28.8" fill="#0db35a" fill-opacity="0.84" clip-path="url(#cl)"/>
<rect x="183.3" y="387.5" width="174.2" height="24.8" fill="#eeece1" stroke="#9a9a9a" stroke-width="1" filter="url(#sh2)"/>
<text class="note" x="209.3" y="404.2" textLength="122.5" lengthAdjust="spacingAndGlyphs">[12] アミノ酸、EM3,1、糖蜜</text>
<rect x="187.5" y="427.5" width="229.5" height="22.1" fill="#eeece1" stroke="#9a9a9a" stroke-width="1" filter="url(#sh2)"/>
<text class="note" x="221.3" y="442.8" textLength="162" lengthAdjust="spacingAndGlyphs">[20] 貝化石、Mg、自然塩、EM3,2,1</text>
<rect x="194.3" y="469.5" width="263.2" height="23.1" fill="#eeece1" stroke="#9a9a9a" stroke-width="1" filter="url(#sh2)"/>
<text class="note" x="226.3" y="485.2" textLength="199.2" lengthAdjust="spacingAndGlyphs">[25] アミノ酸たっぷり、自然塩、EM3,1、糖蜜</text>
<rect x="297.0" y="507.5" width="167.5" height="23.8" fill="#eeece1" stroke="#9a9a9a" stroke-width="1" filter="url(#sh2)"/>
<text class="note" x="324.3" y="523.6" textLength="112.7" lengthAdjust="spacingAndGlyphs">[34] 海藻エキス、アミノ酸</text>
<rect x="297.0" y="547.5" width="211.3" height="22.1" fill="#eeece1" stroke="#9a9a9a" stroke-width="1" filter="url(#sh2)"/>
<text class="note" x="323" y="562.8" textLength="159.5" lengthAdjust="spacingAndGlyphs">[40] 光合成細菌MPB液、糖蜜,EM</text>
<rect x="522.5" y="500.0" width="150.8" height="33.8" fill="#eeece1" stroke="#9a9a9a" stroke-width="1" filter="url(#sh2)"/>
<text class="note" x="532.5" y="515.8" textLength="98" lengthAdjust="spacingAndGlyphs">[47]ボカシ、EM3,甘酒</text>
<text class="note" x="532.5" y="530.3" textLength="108.2" lengthAdjust="spacingAndGlyphs" style="white-space:pre">[48～]  EM3、適時糖蜜</text>
<rect x="552.5" y="542.0" width="148.3" height="34.3" fill="#eeece1" stroke="#9a9a9a" stroke-width="1" filter="url(#sh2)"/>
<text class="note" x="582" y="558.3" textLength="90" lengthAdjust="spacingAndGlyphs">[54～] 酵母発酵液、</text>
<text class="note" x="592.5" y="572.6" textLength="67.5" lengthAdjust="spacingAndGlyphs">EM3、糖蜜、他</text>
<rect x="173.3" y="593.0" width="616.0" height="29.0" fill="#eeece1" stroke="#9a9a9a" stroke-width="1" filter="url(#sh2)"/>
<text x="183.8" y="613.6" font-size="14.5" fill="#111" textLength="14.2" lengthAdjust="spacingAndGlyphs">[1]</text>
<text x="203.2" y="613.2" font-size="12.6" fill="#111" style="font-weight:500" textLength="35" lengthAdjust="spacingAndGlyphs">仕込み</text>
<text x="242.6" y="612.8" font-size="12.6" fill="#111" text-anchor="middle" style="font-weight:700">：</text>
<text class="note" x="246.3" y="612.6" style="font-size:10.3px" textLength="468.3" lengthAdjust="spacingAndGlyphs">EMボカシ、EMセラ発酵C、燻炭、ピートモス、バーミキュライト、粉砕昆布、EM3、EM活性液、糖蜜、甘酒など</text>
<path d="M798.8,579.6 H1004.3 V572.5 L1044.3,591.3 L1004.3,610 V603.3 H798.8 Z" fill="#fff" stroke="#a0a0a0" stroke-width="0.8" filter="url(#sh2)"/>
<text x="812.5" y="598" font-size="13.5" fill="#111" style="font-weight:500;font-feature-settings:'palt'" textLength="143.7" lengthAdjust="spacingAndGlyphs"><tspan class="b">[61]</tspan>～放置・乾燥化～<tspan class="b">[84]</tspan></text>
<text class="b" x="948" y="629.5" font-size="12.5" fill="#111" textLength="21.3" lengthAdjust="spacingAndGlyphs">[76]</text>
<text x="972.6" y="629.5" font-size="11.5" fill="#111" style="font-weight:500" textLength="66.1" lengthAdjust="spacingAndGlyphs">草を刈り取る</text>
<rect x="229" y="95.2" width="547" height="70.6" fill="#c0d88c" stroke="#7f7f7f" stroke-width="1.8" filter="url(#sh2)"/>
<text x="330" y="118.5" font-size="18" font-weight="700" fill="#000" textLength="162.5" lengthAdjust="spacingAndGlyphs">土壌微生物群による</text>
<text x="506.3" y="118.5" font-size="18.4" font-weight="700" fill="#000" textLength="75" lengthAdjust="spacingAndGlyphs">放射線量</text>
<text x="582.6" y="118.5" font-size="18.4" font-weight="700" fill="#000" textLength="22.4" lengthAdjust="spacingAndGlyphs">Sv</text>
<text x="620" y="118.5" font-size="18" font-weight="700" fill="#000" textLength="53.7" lengthAdjust="spacingAndGlyphs">の変化</text>
<rect x="493.7" y="121" width="123.8" height="1.5" fill="#000"/>
<text x="308.8" y="149" font-size="15.5" font-weight="900" fill="#f00000" textLength="387.5" lengthAdjust="spacingAndGlyphs">微生物熱処理殺菌直後の放射線量値を基準としたグラフ</text>
<text class="b" x="297.5" y="149" font-size="15.5" fill="#f00000" text-anchor="end">（</text>
<text class="b" x="707.5" y="149" font-size="15.5" fill="#f00000">）</text>
<line x1="358.3" x2="386.3" y1="183.8" y2="183.8" stroke="#1f64b8" stroke-width="3"/><line x1="358.3" x2="386.3" y1="183.8" y2="183.8" stroke="#19549e" stroke-width="1.2"/><circle cx="372.3" cy="183.8" r="2.4" fill="#0a0a12"/>
<text x="389.3" y="188.5" font-size="13" font-weight="900" fill="#000" textLength="52" lengthAdjust="spacingAndGlyphs">土壌表面</text>
<line x1="488" x2="516.3" y1="183.8" y2="183.8" stroke="#c81e1e" stroke-width="3"/><line x1="488" x2="516.3" y1="183.8" y2="183.8" stroke="#ac1414" stroke-width="1.2"/><circle cx="502.2" cy="183.8" r="2.4" fill="#0a0a12"/>
<text x="518.8" y="188.5" font-size="13" font-weight="900" fill="#000" textLength="83.7" lengthAdjust="spacingAndGlyphs">プランター底面</text>
<text class="b" x="174.7" y="196.8" font-size="12.8" fill="#17397f" textLength="57.6" lengthAdjust="spacingAndGlyphs"><tspan style="font-family:'DejaVu Sans',sans-serif" font-size="13.5">←</tspan>6月26日</text>
<text class="b" x="980" y="196" font-size="14.5" fill="#17397f" textLength="65.5" lengthAdjust="spacingAndGlyphs">9月18日<tspan style="font-family:'DejaVu Sans',sans-serif">→</tspan></text>
<text class="b" x="1100.5" y="131" font-size="14" fill="#17306e" textLength="50.7" lengthAdjust="spacingAndGlyphs">9月19日</text>
<text class="b" x="1100.5" y="149.2" font-size="13.5" fill="#3a3a3a" textLength="54" lengthAdjust="spacingAndGlyphs">最終測定</text>
<rect x="953" y="79.3" width="64.8" height="32.5" fill="#b9d1ef"/>
<text font-weight="900" x="964.8" y="102.2" font-size="17" fill="#000">図</text>
<text class="b" x="990.6" y="102.3" font-size="19.5" fill="#000" textLength="11.4" lengthAdjust="spacingAndGlyphs" style="font-family:'DejaVu Serif','Liberation Serif',serif">Ⅱ</text>
<rect x="99.8" y="329.8" width="118.6" height="29.2" fill="#fff" stroke="#1f3864" stroke-width="1.2"/>
<text x="120.9" y="349" font-size="12" font-weight="500" fill="#1414a8">起点値</text>
<text class="b" x="162.5" y="349.3" font-size="13.2" fill="#1414a8" textLength="34" lengthAdjust="spacingAndGlyphs">397.9</text>
<rect x="94.5" y="304.5" width="114.9" height="27.7" fill="#fff" stroke="#c9352e" stroke-width="1.4"/>
<text x="114.1" y="323.3" font-size="12" font-weight="500" fill="#a81818">起点値</text>
<text class="b" x="156.5" y="323.6" font-size="13.2" fill="#a81818" textLength="33.5" lengthAdjust="spacingAndGlyphs">124.5</text>
<line x1="1083.8" y1="201" x2="1091.8" y2="192.5" stroke="#c0302a" stroke-width="1.2"/>
<line x1="1083.8" y1="203.2" x2="1091.8" y2="196.6" stroke="#222" stroke-width="1"/>
<rect x="1091.8" y="164.4" width="98" height="29" fill="#fff" stroke="#c9352e" stroke-width="1.4"/>
<text x="1106.4" y="182.8" font-size="12" font-weight="500" fill="#a81818">終了値</text>
<text class="b" x="1148.6" y="182.6" font-size="11.2" fill="#a81818" textLength="26.6" lengthAdjust="spacingAndGlyphs">132.1</text>
<rect x="1091.8" y="196.3" width="98" height="27.1" fill="#fff" stroke="#1f3864" stroke-width="1.4"/>
<text x="1106.4" y="214" font-size="12" font-weight="500" fill="#1414a8">終了値</text>
<text class="b" x="1148.6" y="213.8" font-size="11.2" fill="#1414a8" textLength="26.6" lengthAdjust="spacingAndGlyphs">422.1</text>
<rect x="338.6" y="633.2" width="400.6" height="56" fill="url(#dots)" stroke="#4f4f4f" stroke-width="1"/>
<text class="b" x="471.1" y="654.8" font-size="15.5" fill="#c4261d" textLength="63.1" lengthAdjust="spacingAndGlyphs">移動平均</text>
<text class="b" x="550" y="654.8" font-size="15.5" fill="#c4261d" text-anchor="middle">：</text>
<text class="b" x="565.1" y="654.8" font-size="15.5" fill="#c4261d" textLength="42" lengthAdjust="spacingAndGlyphs">等差１</text>
<text class="b" x="418.3" y="676" font-size="15.5" fill="#c4261d" textLength="140" lengthAdjust="spacingAndGlyphs">直近７回の重み係数</text>
<text class="b" x="561.8" y="676" font-size="15" fill="#c4261d" textLength="100.7" lengthAdjust="spacingAndGlyphs">{ 1,2,3,4,5,6,7 }</text>
<text x="838.8" y="660.8" font-size="11.3" font-style="italic" fill="#111" stroke="#111" stroke-width="0.2" style="font-family:'DejaVu Serif','Liberation Serif',serif" textLength="186" lengthAdjust="spacingAndGlyphs">Copyright 2013 Go Takahashi</text>
</svg></body></html>
